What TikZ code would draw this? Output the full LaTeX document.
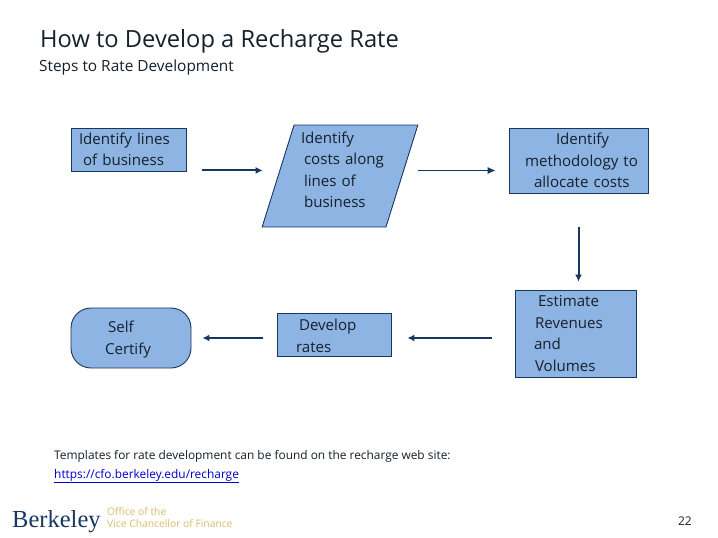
\documentclass[tikz,border=0pt]{standalone}
\usepackage{fontspec}
\setmainfont{Open Sans}
\newfontfamily\logoserif{Liberation Serif}
\usetikzlibrary{positioning,arrows.meta,shapes.geometric}
\definecolor{boxfill}{HTML}{8EB4E3}
\definecolor{boxline}{HTML}{17375E}
\definecolor{inktext}{HTML}{15202B}
\definecolor{logogold}{HTML}{D8BC6C}
\tikzset{
	stepbox/.style={draw=boxline, fill=boxfill, line width=0.9pt, inner sep=0pt, align=left, text=inktext, font=\fontsize{15.1}{21.5}\selectfont},
	flowthick/.style={draw=boxline, line width=2pt, -{Latex[length=7pt,width=7pt]}},
	flowthin/.style={draw=boxline, line width=1pt, -{Latex[length=8pt,width=7pt]}},
}

\begin{document}
\begin{tikzpicture}[x=1pt, y=1pt, on grid]
		\useasboundingbox (0,0) rectangle (718,-538);
		
		% Define nodes
		\node[stepbox, minimum width=115pt, minimum height=43pt, text width=99pt] (lines) at (128.5,-149.5) {Identify~lines\\\hspace*{4pt}of~business};
		\node[stepbox, trapezium, trapezium left angle=73, trapezium right angle=107, trapezium stretches=true, minimum width=156pt, minimum height=102pt, text width=78pt, right=211.5pt of lines, yshift=-26.5pt] (costs) {Identify\\\hspace*{3pt}costs~along\\\hspace*{3pt}lines~of\\\hspace*{3pt}business\\[-9pt]\mbox{}};
		\node[stepbox, minimum width=139pt, minimum height=65pt, text width=130pt, right=238.5pt of costs, yshift=15.5pt] (method) {\hspace*{42.5pt}Identify\\\hspace*{11.5pt}methodology~to\\\hspace*{20.5pt}allocate~costs};
		\node[stepbox, minimum width=121pt, minimum height=87pt, text width=83pt, below=173pt of method, xshift=-3pt] (estimate) {\hspace*{4pt}Estimate\\\hspace*{1pt}Revenues\\and\\\hspace*{1pt}Volumes};
		\node[stepbox, minimum width=114pt, minimum height=43pt, text width=76pt, left=241.5pt of estimate, yshift=-1pt] (develop) {\rule{0pt}{14.5pt}\hspace*{3pt}Develop\\rates};
		\node[stepbox, rounded corners=20pt, minimum width=120pt, minimum height=60pt, text width=52pt, left=203pt of develop, yshift=-3.5pt] (self) {\rule{0pt}{14.5pt}\hspace*{3pt}Self\\Certify};
		
		% Page texts
		\node[anchor=base west, inner sep=0pt, text=inktext, font=\fontsize{23.7}{28}\selectfont] (title) at (40,-47) {How to Develop a Recharge Rate};
		\node[anchor=base west, inner sep=0pt, text=inktext, font=\fontsize{15.4}{18}\selectfont] (subtitle) at (39,-71.5) {Steps to Rate Development};
		\node[anchor=north west, inner sep=0pt, align=left, text=inktext, font=\fontsize{11.9}{19}\selectfont] (templates) at (54,-450) {Templates for rate development can be found on the recharge web site:\\\textcolor{blue!80!black}{\underline{https://cfo.berkeley.edu/recharge}}};
		\node[anchor=base west, inner sep=0pt, text=boxline, font=\logoserif\fontsize{24.5}{30}\selectfont] (berkeley) at (12,-527) {Berkeley};
		\node[anchor=north west, inner sep=0pt, align=left, text=logogold, font=\fontsize{10.3}{12}\selectfont] (office) at (107,-507) {Office of the\\Vice Chancellor of Finance};
		\node[anchor=base east, inner sep=0pt, text=inktext, font=\fontsize{12}{14}\selectfont] (pageno) at (692,-525) {22};
		
		% Connect the nodes
		\draw[flowthick, shorten <=16pt, shorten >=15pt] ([yshift=1pt]lines.south east) -- ([yshift=1pt]lines.south east -| costs.west);
		\draw[flowthin, shorten >=13pt] ([yshift=-10pt]costs.top right corner |- method.west) -- ([yshift=-10pt]method.west);
		\draw[flowthick, shorten <=34pt, shorten >=8pt] (method.south) -- (method.south |- estimate.north);
		\draw[flowthick, shorten <=23pt, shorten >=16pt] ([yshift=-4.5pt]estimate.west) -- ([yshift=-4.5pt]estimate.west -| develop.east);
		\draw[flowthick, shorten <=14pt, shorten >=11pt] (self.east -| develop.west) -- (self.east);
		
		\end{tikzpicture}
\end{document}
